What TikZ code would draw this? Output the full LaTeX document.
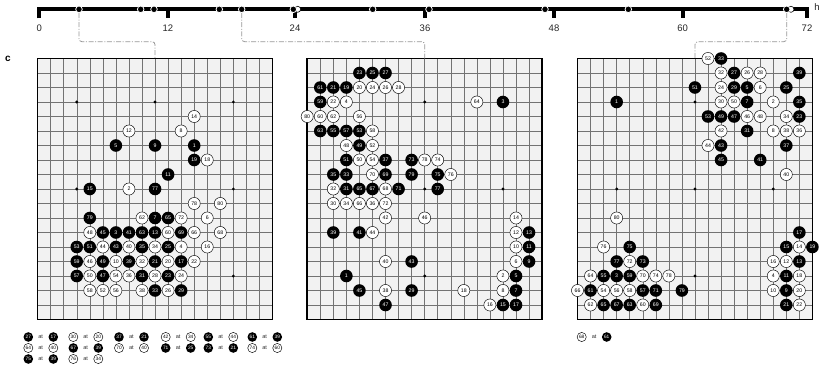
\documentclass[tikz,border=0pt]{standalone}
\usepackage{fontspec}
\setmainfont{Liberation Sans}
\usepackage{tikz}
\definecolor{clrBoard}{RGB}{242,242,242}
\definecolor{clrGrid} {RGB}{115,115,115}
\definecolor{clrLink} {RGB}{150,150,150}
\usetikzlibrary{positioning}

\begin{document}
\begin{tikzpicture}[
  x=1pt, y=-1pt,
  every node/.style = {inner sep=0pt, font=\fontsize{5.2}{5.2}\selectfont},
  %--- stone styles --------------------------------------------------
  blackst/.style = {circle, fill=black, text=white, minimum size=12.6pt},
  whitest/.style = {circle, draw=black, line width=0.45pt, fill=white,
                    minimum size=12.1pt},
  legbst/.style  = {blackst, minimum size=9.6pt,
                    font=\fontsize{4.8}{4.8}\selectfont},
  legwst/.style  = {whitest, minimum size=9.2pt,
                    font=\fontsize{4.8}{4.8}\selectfont},
  atst/.style    = {font=\fontsize{5.6}{5.6}\selectfont, text=black!80},
  %--- board and timeline styles -------------------------------------
  gridst/.style  = {draw=clrGrid, line width=0.5pt},
  framest/.style = {draw=black, line width=1.6pt},
  barst/.style   = {draw=black, line width=4pt},
  markst/.style  = {circle, fill=black, draw=white, line width=0.8pt,
                    minimum size=6.6pt},
  markbst/.style = {circle, fill=white, draw=black, line width=0.6pt,
                    minimum size=6pt},
  lblst/.style   = {font=\fontsize{9.5}{9.5}\selectfont, text=black!85},
  linkst/.style  = {draw=clrLink, line width=0.8pt, rounded corners=3pt,
                    dash pattern=on 5pt off 1.6pt on 1pt off 1.6pt},
]
\useasboundingbox (0,0) rectangle (825,372);

% ---- Boards -------------------------------------------------------
\foreach \bx/\bn in {37.6/A, 307.2/B, 577.5/C} {
  \fill[clrBoard] (\bx,58.5) rectangle ++(234.9,261);
  \foreach \i in {1,...,17} {
    \draw[gridst] (\bx+13.05*\i,58.5) -- ++(0,261);
    \draw[gridst] (\bx,58.5+14.5*\i) -- ++(234.9,0);
  }
  \draw[framest] (\bx,58.5) rectangle ++(234.9,261);
  \foreach \c/\r in {3/3,9/3,15/3,3/9,9/9,15/9,3/15,9/15,15/15}
    \fill (\bx+13.05*\c,58.5+14.5*\r) circle (1.6pt);
  \coordinate (\bn-top)  at (\bx+117.45,58.5);
  \coordinate (\bn-knee) at (\bx+117.45,41.7);
}
\node[font=\bfseries\fontsize{10}{10}\selectfont] (lblc) at (8,59) {c};

% ---- Timeline -----------------------------------------------------
\draw[barst] (39.3,18.3) -- (39.3,9.3) -- (807,9.3) -- (807,18.3);
\foreach \tx in {167.8, 295, 425, 554, 682.7}
  \draw[barst] (\tx,9.3) -- (\tx,18.3);
\foreach \tx/\h in {39.3/0, 167.8/12, 295/24, 425/36, 554/48, 682.7/60, 807/72}
  \node[lblst] (t\h) at (\tx,28.3) {\h};
\node[lblst] (th) at (817,7) {h};

\node[markbst] (m6b)  at (297.7,9.3) {};
\node[markbst] (m11b) at (791,9.3)   {};
\foreach \mx [count=\k] in {79, 140.7, 154, 219.3, 241.7, 293.3, 372.7,
                            429, 545, 628.3, 786.7}
  \node[markst] (m\k) at (\mx,9.3) {};

% ---- Links --------------------------------------------------------
\draw[linkst] (m1.south)  |- (A-knee) -- (A-top);
\draw[linkst] (m5.south)  |- (B-knee) -- (B-top);
\draw[linkst] (m11.south) |- (C-knee) -- (C-top);

% ---- Board A stones -----------------------------------------------
\foreach \c/\r/\n in {12/6/1, 6/12/3, 6/6/5, 9/11/7, 9/6/9, 10/8/11, 9/12/13,
    4/9/15, 11/14/17, 12/7/19, 9/14/21, 10/15/23, 10/13/25, 11/16/29,
    8/15/31, 9/16/33, 8/13/35, 7/14/39, 7/12/41, 6/13/43, 5/12/45,
    5/15/47, 5/14/49, 4/13/51, 3/13/53, 3/15/57, 3/14/59, 8/12/63,
    10/11/65, 11/12/69, 9/9/77, 4/11/79}
  \node[blackst] (A\n) at (37.6+13.05*\c,58.5+14.5*\r) {\n};
\foreach \c/\r/\n in {7/9/2, 11/13/4, 13/11/6, 11/5/8, 6/14/10, 7/5/12,
    12/4/14, 13/13/16, 13/7/18, 10/14/20, 12/14/22, 11/15/24, 10/16/26,
    9/15/28, 8/14/32, 9/13/34, 7/15/36, 8/16/38, 7/13/40, 5/13/44,
    4/14/46, 4/12/48, 4/15/50, 5/16/52, 6/15/54, 6/16/56, 4/16/58,
    10/12/60, 8/11/62, 12/12/66, 14/12/68, 11/11/72, 12/10/78, 14/10/80}
  \node[whitest] (A\n) at (37.6+13.05*\c,58.5+14.5*\r) {\n};

% ---- Board B stones -----------------------------------------------
\foreach \c/\r/\n in {3/15/1, 15/3/3, 16/15/5, 16/16/7, 17/14/9, 17/13/11,
    17/12/13, 15/17/15, 16/17/17, 3/2/19, 2/2/21, 4/1/23, 5/1/25, 6/1/27,
    8/16/29, 3/9/31, 3/8/33, 2/8/35, 6/7/37, 2/12/39, 4/12/41, 8/14/43,
    4/16/45, 6/17/47, 4/6/49, 3/7/51, 4/5/53, 2/5/55, 3/5/57, 1/3/59,
    1/2/61, 1/5/63, 4/9/65, 5/9/67, 6/8/69, 7/9/71, 8/7/73, 10/8/75,
    10/9/77, 8/8/79}
  \node[blackst] (B\n) at (307.2+13.05*\c,58.5+14.5*\r) {\n};
\foreach \c/\r/\n in {15/15/2, 3/3/4, 16/14/6, 15/16/8, 16/13/10, 16/12/12,
    16/11/14, 14/17/16, 12/16/18, 4/2/20, 2/3/22, 5/2/24, 6/2/26, 7/2/28,
    2/10/30, 2/9/32, 3/10/34, 5/10/36, 6/16/38, 6/14/40, 6/11/42, 5/12/44,
    9/11/46, 3/6/48, 4/7/50, 5/6/52, 5/7/54, 4/4/56, 5/5/58, 1/4/60,
    2/4/62, 13/3/64, 4/10/66, 6/9/68, 5/8/70, 6/10/72, 10/7/74, 11/8/76,
    9/7/78, 0/4/80}
  \node[whitest] (B\n) at (307.2+13.05*\c,58.5+14.5*\r) {\n};

% ---- Board C stones -----------------------------------------------
\foreach \c/\r/\n in {3/3/1, 3/15/3, 13/2/5, 13/3/7, 16/16/9, 16/15/11,
    17/14/13, 16/13/15, 17/12/17, 18/13/19, 16/17/21, 17/4/23, 16/2/25,
    12/1/27, 12/2/29, 13/5/31, 11/0/33, 17/3/35, 16/6/37, 17/1/39,
    14/7/41, 11/6/43, 11/7/45, 12/4/47, 11/4/49, 9/2/51, 10/4/53,
    2/15/55, 5/16/57, 4/15/59, 1/16/61, 4/17/63, 2/17/65, 3/17/67,
    6/17/69, 6/16/71, 5/14/73, 4/13/75, 3/14/77, 8/16/79}
  \node[blackst] (C\n) at (577.5+13.05*\c,58.5+14.5*\r) {\n};
\foreach \c/\r/\n in {15/3/2, 15/15/4, 14/2/6, 15/5/8, 15/16/10, 16/14/12,
    17/13/14, 15/14/16, 17/15/18, 17/16/20, 17/17/22, 11/2/24, 13/1/26,
    14/1/28, 11/3/30, 11/1/32, 16/4/34, 17/5/36, 16/5/38, 16/8/40,
    11/5/42, 10/6/44, 13/4/46, 14/4/48, 12/3/50, 10/0/52, 2/16/54,
    3/16/56, 4/16/58, 5/17/60, 1/17/62, 1/15/64, 0/16/66, 5/15/70,
    4/14/72, 6/15/74, 2/13/76, 7/15/78, 3/11/80}
  \node[whitest] (C\n) at (577.5+13.05*\c,58.5+14.5*\r) {\n};

% ---- Legends ------------------------------------------------------
\foreach \px/\py/\sa/\na/\sb/\nb [count=\k] in {
    28.3/337/legbst/27/legbst/17,   73.3/337/legwst/30/legwst/20,
    119/337/legbst/37/legbst/21,    165.7/337/legwst/42/legwst/34,
    208.3/337/legbst/55/legwst/44,  252.3/337/legbst/61/legbst/39,
    28.3/348/legwst/64/legwst/40,   73.3/348/legbst/67/legbst/39,
    119/348/legwst/70/legwst/40,    165.7/348/legbst/71/legbst/25,
    208.3/348/legbst/73/legbst/21,  252.3/348/legwst/74/legwst/60,
    28.3/359/legbst/75/legbst/39,   73.3/359/legwst/76/legwst/34,
    581.7/337/legwst/68/legbst/61} {
  \node[\sa]  (la\k) at (\px,\py)      {\na};
  \node[atst] (lt\k) at (\px+12.4,\py) {at};
  \node[\sb]  (lb\k) at (\px+25,\py)   {\nb};
}

\end{tikzpicture}
\end{document}
